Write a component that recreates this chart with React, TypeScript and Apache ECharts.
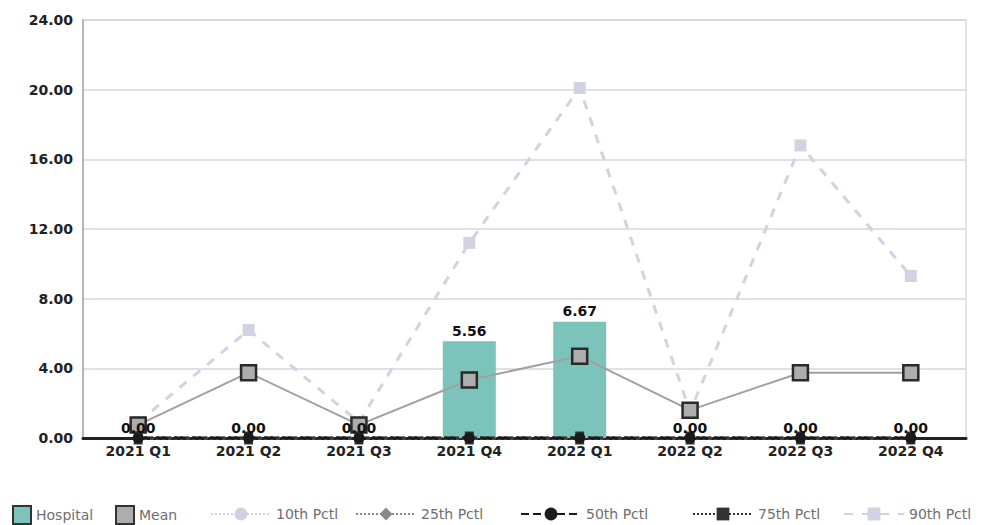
import React, { useEffect, useRef } from "react";
import * as echarts from "echarts";

const categories = ["2021 Q1", "2021 Q2", "2021 Q3", "2021 Q4", "2022 Q1", "2022 Q2", "2022 Q3", "2022 Q4"];
const hospital = [0, 0, 0, 5.56, 6.67, 0, 0, 0];
const mean = [0.75, 3.75, 0.75, 3.33, 4.7, 1.6, 3.75, 3.75];
const p10 = [0, 0, 0, 0, 0, 0, 0, 0];
const p25 = [0, 0, 0, 0, 0, 0, 0, 0];
const p50 = [0, 0, 0, 0, 0, 0, 0, 0];
const p75 = [0, 0, 0, 0, 0, 0, 0, 0];
const p90 = [0.9, 6.2, 0.9, 11.2, 20.1, 1.5, 16.8, 9.3];
const yTicks = { min: 0, max: 24, interval: 4 };
const legendNames = ["Hospital", "Mean", "10th Pctl", "25th Pctl", "50th Pctl", "75th Pctl", "90th Pctl"];

export default function App() {
  const ref = useRef<HTMLDivElement>(null);
  useEffect(() => {
    if (!ref.current) return;
    const chart = echarts.init(ref.current, null, { renderer: "svg" });
    const font = "DejaVu Sans";
    const legendText = { color: "#6e6e6e", fontFamily: "DejaVu Sans", fontSize: 14 };
    const legendLefts = [12, 115, 210, 355, 520, 692, 843];
    const legends = legendNames.map((name, i) => {
      const isBox = i < 2;
      return {
        left: legendLefts[i],
        top: isBox ? 505 : 507,
        padding: 0,
        itemWidth: isBox ? 18 : 60,
        itemHeight: isBox ? 18 : 16,
        itemGap: 0,
        textStyle: legendText,
        data: [isBox ? { name, icon: "rect", itemStyle: { borderColor: "#333", borderWidth: 2 } } : name],
      };
    });
    chart.setOption({
      animation: false,
      backgroundColor: "#ffffff",
      grid: {
        left: 83,
        right: 29,
        top: 20,
        bottom: 87,
        containLabel: false,
        show: true,
        borderColor: "#c4c4d2",
        borderWidth: 1,
      },
      xAxis: {
        type: "category",
        data: categories,
        axisLine: { show: true, lineStyle: { color: "#222", width: 3 } },
        axisTick: { show: false },
        axisLabel: { color: "#222", fontFamily: font, fontWeight: "bold", fontSize: 14, margin: 6 },
      },
      yAxis: {
        type: "value",
        min: yTicks.min,
        max: yTicks.max,
        interval: yTicks.interval,
        axisLine: { show: true, lineStyle: { color: "#b4b4c8", width: 2 } },
        axisTick: { show: false },
        splitLine: { lineStyle: { color: "#d6d6e2", width: 1.5 } },
        axisLabel: {
          color: "#222",
          fontFamily: font,
          fontWeight: "bold",
          fontSize: 14,
          margin: 10,
          formatter: (v: number) => v.toFixed(2),
        },
      },
      legend: legends,
      series: [
        {
          name: "Hospital",
          type: "bar",
          data: hospital,
          barWidth: "48%",
          itemStyle: { color: "#7cc4bb" },
          z: 2,
        },
        {
          name: "10th Pctl",
          type: "line",
          data: p10,
          symbol: "circle",
          symbolSize: 9,
          lineStyle: { color: "#d0d0de", width: 3, type: "dotted" },
          itemStyle: { color: "#d0d0de" },
          z: 3,
        },
        {
          name: "25th Pctl",
          type: "line",
          data: p25,
          symbol: "diamond",
          symbolSize: 10,
          lineStyle: { color: "#888", width: 3, type: "dotted" },
          itemStyle: { color: "#888" },
          z: 3,
        },
        {
          name: "75th Pctl",
          type: "line",
          data: p75,
          symbol: "rect",
          symbolSize: [9, 13],
          lineStyle: { color: "#333", width: 3, type: "dotted" },
          itemStyle: { color: "#333" },
          z: 3,
        },
        {
          name: "50th Pctl",
          type: "line",
          data: p50,
          symbol: "circle",
          symbolSize: 11,
          lineStyle: { color: "#1a1a1a", width: 3, type: "dashed" },
          itemStyle: { color: "#1a1a1a" },
          z: 4,
        },
        {
          name: "90th Pctl",
          type: "line",
          data: p90,
          symbol: "rect",
          symbolSize: 12,
          lineStyle: { color: "#d2d2e2", width: 3, type: [9, 9] },
          itemStyle: { color: "#d2d2e2" },
          z: 5,
        },
        {
          name: "Mean",
          type: "line",
          data: mean,
          symbol: "rect",
          symbolSize: 15,
          lineStyle: { color: "#a0a0a0", width: 2 },
          itemStyle: { color: "#adadad", borderColor: "#2a2a2a", borderWidth: 2.5 },
          z: 6,
        },
        {
          name: "HospitalLabels",
          type: "scatter",
          data: hospital,
          symbol: "circle",
          symbolSize: 1,
          silent: true,
          itemStyle: { color: "rgba(0,0,0,0)", opacity: 1 },
          label: {
            show: true,
            position: "top",
            distance: 3,
            color: "#111",
            opacity: 1,
            textBorderWidth: 0,
            fontFamily: font,
            fontWeight: "bold",
            fontSize: 14,
            formatter: (p: any) => Number(p.value).toFixed(2),
          },
          z: 10,
        },
      ],
    });
    return () => chart.dispose();
  }, []);
  return <div ref={ref} style={{ position: "absolute", left: 0, top: 0, width: 995, height: 525 }} />;
}
